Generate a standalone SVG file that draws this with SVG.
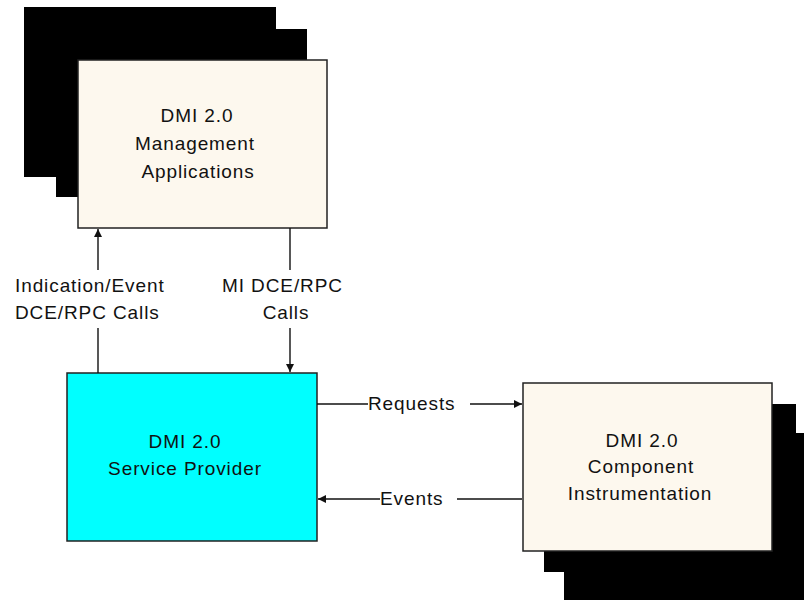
<svg xmlns="http://www.w3.org/2000/svg" width="804" height="600" viewBox="0 0 804 600">
  <style>
    .shadow { fill: #000; }
    .box { stroke: #222; stroke-width: 1.5; }
    .cream { fill: #fdf8ee; }
    .cyan { fill: #00ffff; }
    .wire { stroke: #111; stroke-width: 1.4; fill: none; }
    text { font-family: "Liberation Sans", Arial, sans-serif; font-size: 19px; letter-spacing: 0.9px; fill: #111; }
    .c { text-anchor: middle; }
  </style>
  <defs>
    <marker id="arrow" viewBox="0 0 8 9" refX="8" refY="4.5" markerWidth="8" markerHeight="9" markerUnits="userSpaceOnUse" orient="auto">
      <path d="M0,0.5 L8,4.5 L0,8.5 Z" fill="#111"/>
    </marker>
  </defs>

  <rect width="804" height="600" fill="#fff"/>

  <!-- Management applications: stacked copies behind the front box -->
  <g id="management-applications">
    <rect class="shadow" x="24" y="7" width="252" height="170"/>
    <rect class="shadow" x="56" y="29" width="251" height="168"/>
    <rect class="box cream" x="78" y="60" width="249" height="168"/>
    <text class="c" x="197" y="122">DMI 2.0</text>
    <text class="c" x="195" y="150">Management</text>
    <text class="c" x="198" y="178">Applications</text>
  </g>

  <!-- Service provider -->
  <g id="service-provider">
    <rect class="box cyan" x="67" y="373" width="250" height="168"/>
    <text class="c" x="185" y="448">DMI 2.0</text>
    <text class="c" x="185" y="475">Service Provider</text>
  </g>

  <!-- Component instrumentation: stacked copies behind the front box -->
  <g id="component-instrumentation">
    <rect class="shadow" x="564" y="433" width="260" height="180"/>
    <rect class="shadow" x="544" y="404" width="252" height="168"/>
    <rect class="box cream" x="523" y="383" width="249" height="168"/>
    <text class="c" x="642" y="447">DMI 2.0</text>
    <text class="c" x="641" y="473">Component</text>
    <text class="c" x="640" y="500">Instrumentation</text>
  </g>

  <!-- Connectors and their labels -->
  <g id="connectors">
    <!-- indication / event calls up to the applications -->
    <line class="wire" x1="98" y1="373" x2="98" y2="328"/>
    <line class="wire" x1="98" y1="270" x2="98" y2="229" marker-end="url(#arrow)"/>
    <text x="15" y="292">Indication/Event</text>
    <text x="15" y="319">DCE/RPC Calls</text>

    <!-- MI calls down to the service provider -->
    <line class="wire" x1="290" y1="228" x2="290" y2="270"/>
    <line class="wire" x1="290" y1="328" x2="290" y2="372" marker-end="url(#arrow)"/>
    <text x="222" y="292">MI DCE/RPC</text>
    <text class="c" x="286" y="319">Calls</text>

    <!-- requests to the instrumentation -->
    <line class="wire" x1="317" y1="404" x2="368" y2="404"/>
    <line class="wire" x1="470" y1="404" x2="522" y2="404" marker-end="url(#arrow)"/>
    <text x="368" y="410">Requests</text>

    <!-- events back to the service provider -->
    <line class="wire" x1="522" y1="499" x2="457" y2="499"/>
    <line class="wire" x1="380" y1="499" x2="318" y2="499" marker-end="url(#arrow)"/>
    <text x="380" y="505">Events</text>
  </g>
</svg>
